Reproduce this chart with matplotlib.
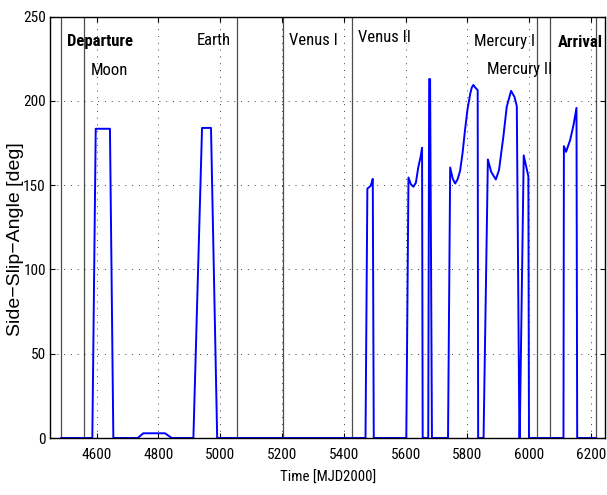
import matplotlib
matplotlib.use("Agg")
import matplotlib.pyplot as plt
from matplotlib import font_manager as fm

# ---- data ----
time = [4485, 4586, 4597, 4643, 4654,
        4733, 4751, 4821, 4843,
        4913, 4941, 4970, 4990,
        5470, 5476, 5486, 5490, 5493.5, 5496.7,
        5602, 5609, 5617, 5625, 5633, 5641, 5648, 5653, 5655,
        5673, 5676, 5679, 5685,
        5737, 5744, 5752, 5760, 5768, 5776, 5784, 5792, 5800, 5809, 5814, 5819, 5825, 5833, 5834.5,
        5852, 5866, 5876.5, 5891.7, 5902, 5916, 5927, 5941, 5952, 5959.6, 5968,
        5969, 5982, 5990, 5997, 5999,
        6110.6, 6112, 6119, 6132, 6143, 6152.7, 6155,
        6215]
angle = [0, 0, 183.5, 183.5, 0,
         0, 2.8, 2.8, 0,
         0, 184, 184, 0,
         0, 148, 149.5, 151.5, 153.8, 0,
         0, 154.6, 150.5, 149.1, 151.5, 160.9, 166.5, 172.2, 0,
         0, 213, 213, 0,
         0, 160.5, 154, 151, 153.5, 158.5, 169, 182.7, 195, 204.4, 208, 209.5, 208, 206.4, 0,
         0, 165.3, 158, 153.4, 159, 178.7, 196.5, 206, 202.4, 196.9, 0,
         0, 167.7, 161, 155.4, 0,
         0, 173.2, 169.8, 176.7, 185.6, 195.9, 0,
         0]

event_times = [4484, 4559, 5053, 5202, 5426, 6026, 6066, 6215]
event_labels = ['Departure', 'Moon', 'Earth', 'Venus I', 'Venus II', 'Mercury I', 'Mercury II', 'Arrival']
label_x = [4505, 4581, 4924, 5224, 5445, 5821, 5864, 6091]
label_y = [232.7, 215.5, 233.5, 233.1, 235.0, 232.7, 215.9, 232.0]
label_bold = [True, False, False, False, False, False, False, True]

xticks = [4600, 4800, 5000, 5200, 5400, 5600, 5800, 6000, 6200]
yticks = [0, 50, 100, 150, 200, 250]

# ---- fonts: prefer a narrow/condensed sans ----
prefs = ['liberation sans narrow', 'arial narrow', 'roboto condensed', 'open sans condensed',
         'dejavu sans condensed', 'noto sans condensed', 'dejavu sans']
cands = [f for f in fm.fontManager.ttflist if f.style == 'normal' and
         ('narrow' in f.name.lower() or 'condensed' in f.name.lower() or
          str(f.stretch).lower() in ('condensed', 'semi-condensed', 'extra-condensed'))]

def rank(f):
    n = f.name.lower()
    for i, p in enumerate(prefs):
        if n.startswith(p):
            return i
    return len(prefs)

reg_file = bold_file = None
if cands:
    cands.sort(key=rank)
    fam = cands[0].name
    same = [f for f in cands if f.name == fam and str(f.stretch) == str(cands[0].stretch)]
    regs = [f for f in same if f.weight in (400, 'normal', 'regular', 'book')]
    bolds = [f for f in same if f.weight in (700, 'bold')]
    if regs:
        reg_file = regs[0].fname
    if bolds:
        bold_file = bolds[0].fname

if reg_file:
    fp_reg = lambda s: fm.FontProperties(fname=reg_file, size=s)
    fp_bold = (lambda s: fm.FontProperties(fname=bold_file, size=s)) if bold_file else \
              (lambda s: fm.FontProperties(family='Liberation Sans', weight='bold', size=s * 0.85))
    sz_lab, sz_tick, sz_xl = 12, 11, 10.6
else:
    fp_reg = lambda s: fm.FontProperties(family='Liberation Sans', size=s)
    fp_bold = lambda s: fm.FontProperties(family='Liberation Sans', weight='bold', size=s)
    sz_lab, sz_tick, sz_xl = 10.2, 9.6, 9.6

plt.rcParams['lines.scale_dashes'] = False

fig = plt.figure(figsize=(6.07, 4.95), dpi=100)
ax = fig.add_axes([50/607, 1-438/495, (605-50)/607, (438-16.7)/495])

ax.set_xlim(4449, 6245)
ax.set_ylim(0, 250)

for t in event_times:
    ax.axvline(t, color='0.3', lw=0.9, zorder=1)

ax.plot(time, angle, color='#0000ff', lw=1.4, zorder=3, clip_on=False)

for lab, x, y, b in zip(event_labels, label_x, label_y, label_bold):
    ax.text(x, y, lab, ha='left', va='baseline',
            fontproperties=fp_bold(sz_lab) if b else fp_reg(sz_lab),
            color='black', zorder=4)

ax.set_xticks(xticks)
ax.set_yticks(yticks)
ax.set_xticklabels([str(v) for v in xticks], fontproperties=fp_reg(sz_tick))
ax.set_yticklabels([str(v) for v in yticks], fontproperties=fp_reg(sz_tick))
ax.tick_params(axis='x', direction='in', length=3.6, width=0.8, top=True, pad=7.5)
ax.tick_params(axis='y', direction='in', length=3.6, width=0.8, right=True, pad=3)
ax.grid(True, color='0.25', lw=0.7, linestyle=(0, (0.7, 4.2)), zorder=0)

for s in ax.spines.values():
    s.set_linewidth(1.0)
    s.set_zorder(5)

ax.set_xlabel('Time [MJD2000]', fontproperties=fp_reg(sz_xl), va='center')
ax.xaxis.set_label_coords(0.502, -0.095)
ax.set_ylabel('Side\u2212Slip\u2212Angle [deg]', family='Liberation Sans', fontsize=14, va='center')
ax.yaxis.set_label_coords(-0.063, 0.472)

fig.savefig('out.png', dpi=100)
